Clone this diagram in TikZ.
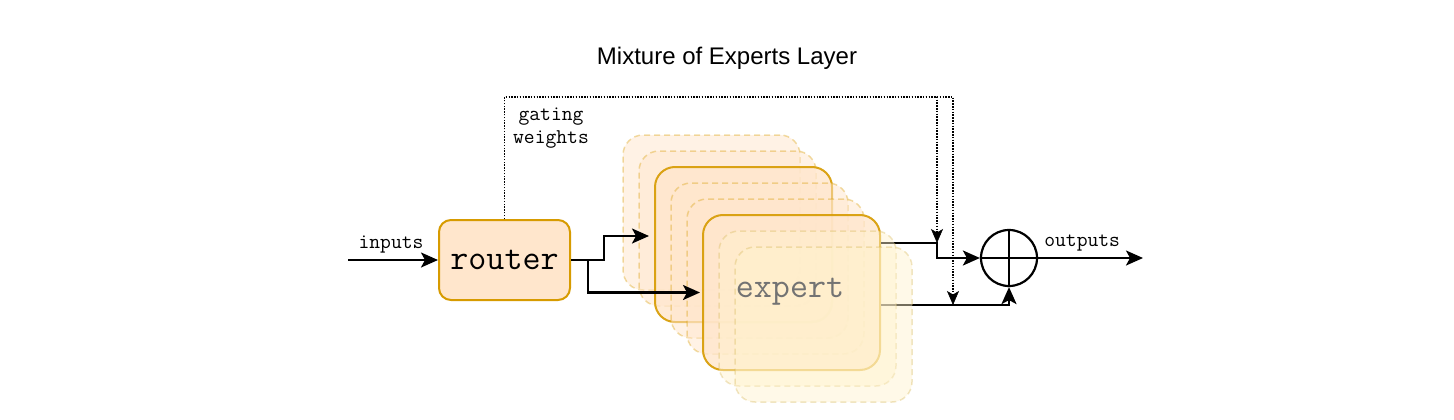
\documentclass[tikz,border=0pt]{standalone}
\usepackage{fontspec}
\setmainfont{Liberation Sans}
\usetikzlibrary{arrows.meta,calc}
\definecolor{peach}{HTML}{FFE6CC}
\definecolor{peachline}{HTML}{D79B00}
\definecolor{paleyel}{HTML}{FFF2CC}
\definecolor{yelline}{HTML}{D6B656}
\tikzset{
  arr/.style={line width=2.2pt,-{Stealth[length=17pt,width=15pt,inset=4pt]}},
  dotarr/.style={line width=1.5pt,dash pattern=on 1.5pt off 1.3pt,-{Stealth[length=14pt,width=12pt,inset=3.5pt,line width=0.5pt]}},
  plainline/.style={line width=2.2pt},
  routerbox/.style={draw=peachline,fill=peach,line width=2pt,rounded corners=12pt,minimum width=131pt,minimum height=80pt,inner sep=0pt,font=\ttfamily\fontsize{35}{35}\selectfont},
  expsolid/.style={draw=peachline,fill=peach,fill opacity=0.8,draw opacity=0.9,line width=2pt,rounded corners=20pt,minimum width=177pt,minimum height=155pt,inner sep=0pt},
  expdashA/.style={draw=peachline,draw opacity=0.35,fill=peach,fill opacity=0.5,line width=1.5pt,dash pattern=on 6pt off 4pt,rounded corners=20pt,minimum width=177pt,minimum height=155pt,inner sep=0pt},
  expdashB/.style={draw=yelline,draw opacity=0.35,fill=paleyel,fill opacity=0.45,line width=1.5pt,dash pattern=on 6pt off 4pt,rounded corners=20pt,minimum width=177pt,minimum height=155pt,inner sep=0pt},
  lbl/.style={font=\ttfamily\fontsize{21}{23}\selectfont,inner sep=0pt,align=center},
}
\begin{document}
\begin{tikzpicture}[x=1pt,y=-1pt]
\useasboundingbox (0,0) rectangle (1454,420);
\node[font=\fontsize{24}{24}\selectfont] (title) at (727,58) {Mixture of Experts Layer};
% expert stack
\node[expdashA] (e0) at (711.5,212.5) {};
\node[expdashA] (e1) at (727.5,228.5) {};
\node[expsolid] (e2) at (743.5,244.5) {};
\node[expdashA] (e3) at (759.5,260.5) {};
\node[expdashA] (e4) at (775.5,276.5) {};
\node[expsolid] (e5) at (791.5,292.5) {};
% output lines (under the back-most pale boxes)
\coordinate (g1) at (937,243);
\coordinate (g2) at (953,305);
\node[draw,circle,line width=2.2pt,minimum size=56pt,inner sep=0pt] (plus) at (1009,258) {};
\draw[plainline] (plus.north) -- (plus.south);
\draw[plainline] (plus.west) -- (plus.east);
\draw[arr] ([yshift=49.5pt]e5.east) -- (g1) |- (plus.west);
\draw[arr] ([yshift=-12.5pt]e5.east) -| (plus.south);
\node[expdashB] (e6) at (807.5,308.5) {};
\node[expdashB] (e7) at (823.5,324.5) {};
\node[font=\ttfamily\fontsize{35}{35}\selectfont,text=black!55,inner sep=0pt] (explbl) at (790,292) {expert};
% router
\node[routerbox] (router) at (504.5,260) {router};
\coordinate (in) at (348,260);
\coordinate (out) at (1143,258);
\draw[arr] (in) -- node[lbl,above=6pt,xshift=-2pt] (inlbl) {inputs} (router.west);
\draw[arr,shorten >=5pt] (router.east) -- ++(33,0) |- ([yshift=8.5pt]e2.west);
\draw[arr,shorten >=2pt] ([xshift=17pt]router.east) |- (e5.west);
\draw[arr] (plus.east) -- node[lbl,above=6pt,pos=0.42] (outlbl) {outputs} (out);
% gating
\draw[dotarr] (router.north) -- ++(0,-122) -| (g1);
\draw[dotarr] (router.north) -- ++(0,-122) -| (g2);
\node[lbl] (gw) at (551,128.5) {gating\\weights};
\end{tikzpicture}
\end{document}
